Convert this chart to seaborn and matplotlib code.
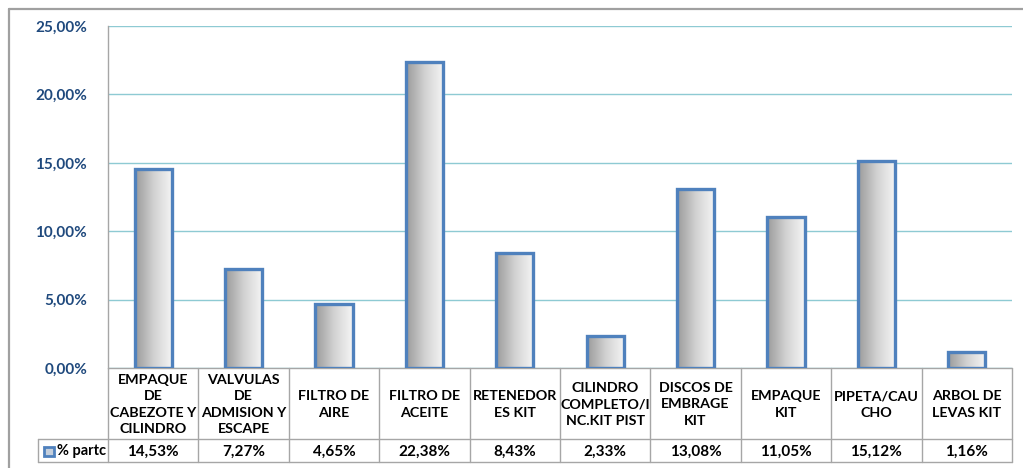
import numpy as np
import pandas as pd
import matplotlib
matplotlib.use("Agg")
import matplotlib.pyplot as plt
from matplotlib.colors import LinearSegmentedColormap
import seaborn as sns

categories = [
    "EMPAQUE\nDE\nCABEZOTE Y\nCILINDRO",
    "VALVULAS\nDE\nADMISION Y\nESCAPE",
    "FILTRO DE\nAIRE",
    "FILTRO DE\nACEITE",
    "RETENEDOR\nES KIT",
    "CILINDRO\nCOMPLETO/I\nNC.KIT PIST",
    "DISCOS DE\nEMBRAGE\nKIT",
    "EMPAQUE\nKIT",
    "PIPETA/CAU\nCHO",
    "ARBOL DE\nLEVAS KIT",
]
values = [14.53, 7.27, 4.65, 22.38, 8.43, 2.33, 13.08, 11.05, 15.12, 1.16]
series_name = "% partc"
yticks = [0, 5, 10, 15, 20, 25]

sns.set_theme(style="white")
plt.rcParams["font.family"] = ["Lato", "DejaVu Sans"]

W, H = 1023, 468
fig = plt.figure(figsize=(W / 100, H / 100), dpi=100)
fig.patch.set_facecolor("white")

# plot area in pixel terms
x0, x1 = 108, 1012
y_top, y_zero = 26, 368
ax = fig.add_axes([x0 / W, (H - y_zero) / H, (x1 - x0) / W, (y_zero - y_top) / H])

df = pd.DataFrame({"cat": categories, "val": values})
edge = "#4f81bd"
sns.barplot(data=df, x="cat", y="val", ax=ax, width=0.41, color="white",
            edgecolor=edge, linewidth=2.4, saturation=1, zorder=3)

# horizontal grey gradient inside each bar
cmap = LinearSegmentedColormap.from_list("bargrad", ["#9a9a9a", "#d2d2d2", "#f6f6f6"])
grad = np.linspace(0, 1, 256).reshape(1, -1)
for p in ax.patches:
    p.set_facecolor("none")
    bx, by = p.get_x(), p.get_y()
    bw, bh = p.get_width(), p.get_height()
    im = ax.imshow(grad, cmap=cmap, aspect="auto", extent=[bx, bx + bw, by, by + bh],
                   zorder=2.5, interpolation="bicubic")
    im.set_clip_path(p)

ax.set_xlim(-0.5, len(values) - 0.5)
ax.set_ylim(0, 25)
ax.set_yticks(yticks)
ax.set_yticklabels([f"{t:.2f}".replace(".", ",") + "%" for t in yticks],
                   fontsize=11, fontweight="bold", color="#1f497d")
ax.tick_params(axis="y", length=0, pad=15)
ax.set_xticks([])
ax.set_xlabel("")
ax.set_ylabel("")
ax.yaxis.grid(True, color="#8ecad3", linewidth=1.0, zorder=0)
ax.set_axisbelow(True)
for s in ["top", "right", "bottom"]:
    ax.spines[s].set_visible(False)
ax.spines["left"].set_color("#a6a6a6")
ax.spines["left"].set_linewidth(1.0)
ax.patch.set_alpha(0)

# overlay in pixel coordinates for the frame and data table
ov = fig.add_axes([0, 0, 1, 1], zorder=-1)
ov.set_xlim(0, W)
ov.set_ylim(H, 0)
ov.axis("off")

frame_c = "#a0a0a0"
ov.plot([9, 9], [9, H + 5], color=frame_c, lw=1.6)
ov.plot([9, W + 5], [9, 9], color=frame_c, lw=1.6)

grid_c = "#a6a6a6"
row_mid = 439
row_bot = 462
col_w = (x1 - x0) / len(values)
# horizontal table lines
ov.plot([x0, x1], [y_zero, y_zero], color=grid_c, lw=1.0)
ov.plot([38, x1], [row_mid, row_mid], color=grid_c, lw=1.0)
ov.plot([38, x1], [row_bot, row_bot], color=grid_c, lw=1.0)
# vertical table lines
ov.plot([38, 38], [row_mid, row_bot], color=grid_c, lw=1.0)
for i in range(len(values) + 1):
    xc = x0 + i * col_w
    ov.plot([xc, xc], [y_zero, row_bot], color=grid_c, lw=1.0)

for i, (c, v) in enumerate(zip(categories, values)):
    cx = x0 + (i + 0.5) * col_w
    ov.text(cx, (y_zero + row_mid) / 2 + 1, c, ha="center", va="center",
            fontsize=10.3, fontweight="bold", color="black", linespacing=1.45)
    ov.text(cx, (row_mid + row_bot) / 2 + 1, f"{v:.2f}".replace(".", ",") + "%",
            ha="center", va="center", fontsize=11, fontweight="bold", color="black")

# legend key in the table header cell
ov.add_patch(plt.Rectangle((44, 447), 10, 9, facecolor="#c5cfdc", edgecolor=edge, lw=2.0))
ov.text(57, (row_mid + row_bot) / 2 + 1, series_name, ha="left", va="center",
        fontsize=10.5, fontweight="bold", color="black")

fig.savefig("out.png", dpi=100, facecolor="white")
